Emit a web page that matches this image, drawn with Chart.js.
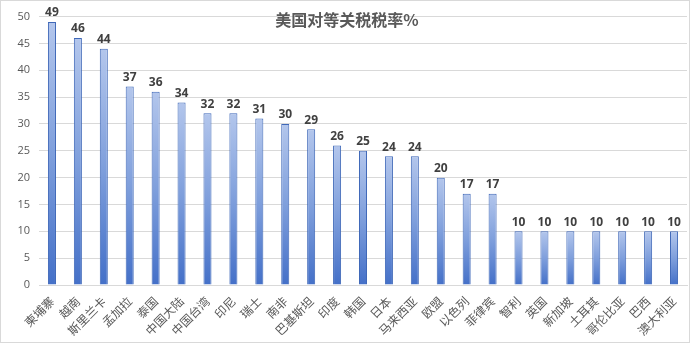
<!DOCTYPE html>
<html>
<head>
<meta charset="utf-8">
<script src="https://cdn.jsdelivr.net/npm/chart.js@4/dist/chart.umd.min.js"></script>
<style>
  html, body { margin: 0; padding: 0; background: #fff; }
  #wrap { width: 690px; height: 343px; position: relative; box-sizing: border-box; border: 1px solid #d9d9d9; }
</style>
</head>
<body>
<div id="wrap"><canvas id="c"></canvas></div>
<script>
const countries = ['柬埔寨', '越南', '斯里兰卡', '孟加拉', '泰国', '中国大陆', '中国台湾', '印尼', '瑞士', '南非',
    '巴基斯坦', '印度', '韩国', '日本', '马来西亚', '欧盟', '以色列', '菲律宾', '智利', '英国',
    '新加坡', '土耳其', '哥伦比亚', '巴西', '澳大利亚'];
const rates = [49, 46, 44, 37, 36, 34, 32, 32, 31, 30, 29, 26, 25, 24, 24, 20, 17, 17, 10, 10, 10, 10, 10, 10, 10];
const yTicks = [0, 5, 10, 15, 20, 25, 30, 35, 40, 45, 50];
const chartTitle = '美国对等关税税率%';

// Excel style per-bar gradient: light at the top, darker blue at the base
function barFill(context) {
    const chart = context.chart;
    const y = chart.scales.y;
    if (!y || !context.parsed) return '#7f9fdc';
    const top = y.getPixelForValue(context.parsed.y);
    const bottom = y.getPixelForValue(0);
    if (!isFinite(top) || !isFinite(bottom)) return '#7f9fdc';
    const g = chart.ctx.createLinearGradient(0, top, 0, bottom);
    g.addColorStop(0, '#b3c6ec');
    g.addColorStop(0.5, '#7f9fdc');
    g.addColorStop(1, '#4470c8');
    return g;
}

const labelPlugin = {
    id: 'labels',
    afterDatasetsDraw(chart) {
        const ctx = chart.ctx;
        const meta = chart.getDatasetMeta(0);
        ctx.save();
        ctx.fillStyle = '#404040';
        ctx.font = 'bold 12px "Open Sans", "Noto Sans", sans-serif';
        ctx.textAlign = 'center';
        ctx.textBaseline = 'bottom';
        meta.data.forEach((bar, i) => {
            ctx.fillText(rates[i], bar.x, bar.y - 3);
        });
        // title sits inside the plot area
        ctx.fillStyle = '#595959';
        ctx.font = 'bold 16px "Noto Sans CJK SC", sans-serif';
        ctx.textBaseline = 'middle';
        ctx.fillText(chartTitle, 346, 19);
        ctx.restore();
    }
};

new Chart(document.getElementById('c'), {
    type: 'bar',
    data: {
        labels: countries,
        datasets: [{
            data: rates,
            backgroundColor: barFill,
            borderColor: '#3f68b8',
            borderWidth: 1,
            barPercentage: 0.62,
            categoryPercentage: 0.5
        }]
    },
    options: {
        responsive: true,
        maintainAspectRatio: false,
        animation: false,
        layout: { padding: { top: 4, right: 2, left: 0, bottom: 0 } },
        plugins: {
            legend: { display: false },
            tooltip: { enabled: false }
        },
        scales: {
            x: {
                grid: { display: false },
                border: { color: '#d9d9d9' },
                ticks: {
                    color: '#595959',
                    font: { size: 12, family: '"Noto Sans CJK SC", sans-serif' },
                    maxRotation: 45,
                    minRotation: 45,
                    autoSkip: false,
                    padding: 1
                },
                afterFit: s => { s.height = 57; }
            },
            y: {
                min: 0,
                max: 50,
                afterBuildTicks: s => { s.ticks = yTicks.map(v => ({ value: v })); },
                grid: { color: '#d9d9d9', drawTicks: false },
                border: { display: false },
                ticks: {
                    color: '#595959',
                    font: { size: 11, family: '"Open Sans", sans-serif' },
                    padding: 9
                },
                afterFit: s => { s.width = 38; }
            }
        }
    },
    plugins: [labelPlugin]
});
</script>
</body>
</html>
